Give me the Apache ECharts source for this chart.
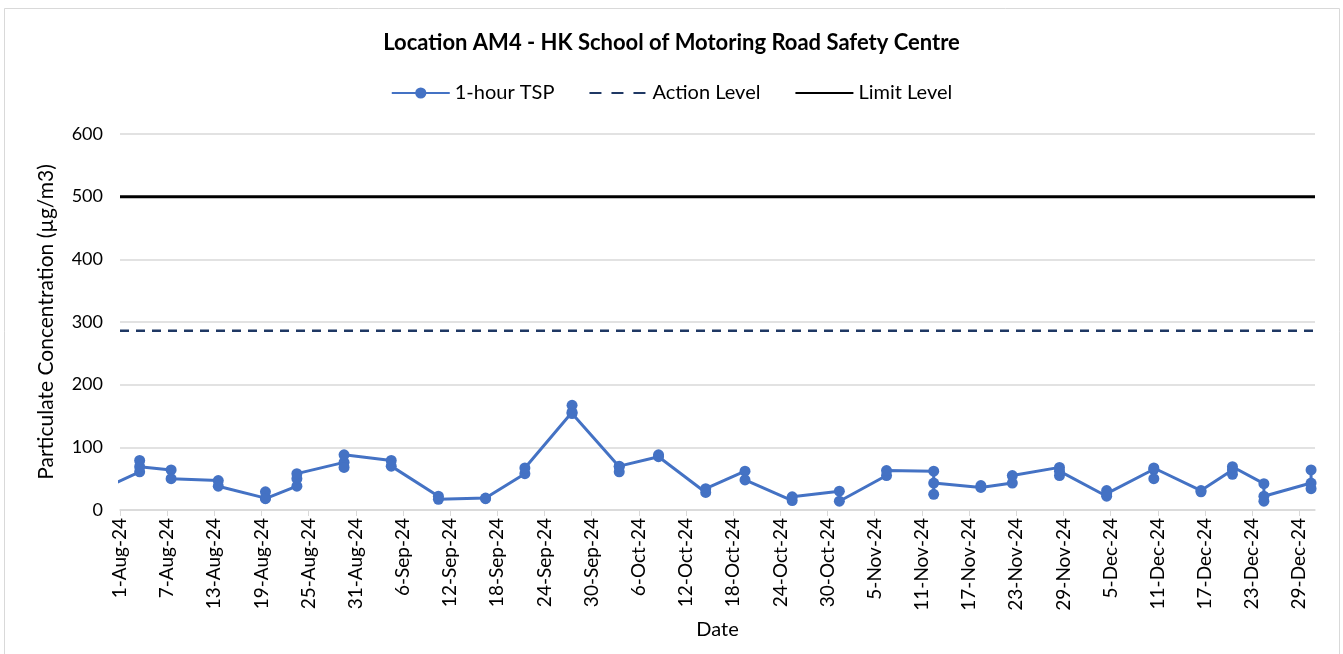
<!DOCTYPE html>
<html>
<head>
<meta charset="utf-8">
<script src="https://cdn.jsdelivr.net/npm/echarts@6/dist/echarts.min.js"></script>
<style>
  html, body { margin: 0; padding: 0; background: #fff; }
  #chartContainer { width: 1343px; height: 654px; }
</style>
</head>
<body>
<div id="chartContainer"></div>
<script>
// Sampling dates (1-hour TSP, several readings per sampling day)
const sampleDates = [
  '2024-07-28 12:00',
  '2024-08-03 12:00', '2024-08-07 12:00', '2024-08-13 12:00', '2024-08-19 12:00',
  '2024-08-23 12:00', '2024-08-29 12:00', '2024-09-04 12:00', '2024-09-10 12:00',
  '2024-09-16 12:00', '2024-09-21 12:00', '2024-09-27 12:00', '2024-10-03 12:00',
  '2024-10-08 12:00', '2024-10-14 12:00', '2024-10-19 12:00', '2024-10-25 12:00',
  '2024-10-31 12:00', '2024-11-06 12:00', '2024-11-12 12:00', '2024-11-18 12:00',
  '2024-11-22 12:00', '2024-11-28 12:00', '2024-12-04 12:00', '2024-12-10 12:00',
  '2024-12-16 12:00', '2024-12-20 12:00', '2024-12-24 12:00', '2024-12-30 12:00'
];
// readings for each sampling date, in the order they were plotted
const tspReadings = [
  [26],
  [61, 79, 69], [64, 50], [47, 38], [19, 29, 18],
  [38, 50, 58], [76, 68, 88], [79, 70], [22, 17],
  [19, 18], [58, 67], [156, 167, 154], [69, 61, 70],
  [85, 88], [28, 34], [62, 48], [15, 21],
  [30, 14], [55, 63], [62, 25, 43], [36, 39],
  [43, 55], [68, 55, 62], [22, 31, 26], [65, 50, 67],
  [31, 29], [64, 57, 69], [42, 14, 22], [43, 34, 64]
];
const actionLevel = 286;
const limitLevel = 500;
const axisStart = '2024-08-01';
const axisEnd = '2024-12-31';
const tickLabels = [
  '1-Aug-24', '7-Aug-24', '13-Aug-24', '19-Aug-24', '25-Aug-24', '31-Aug-24',
  '6-Sep-24', '12-Sep-24', '18-Sep-24', '24-Sep-24', '30-Sep-24', '6-Oct-24',
  '12-Oct-24', '18-Oct-24', '24-Oct-24', '30-Oct-24', '5-Nov-24', '11-Nov-24',
  '17-Nov-24', '23-Nov-24', '29-Nov-24', '5-Dec-24', '11-Dec-24', '17-Dec-24',
  '23-Dec-24', '29-Dec-24'
];
const tickStep = 6;

// days since the axis start
function toDay(s) {
  const p = s.split(/[- :]/).map(Number);
  const t = Date.UTC(p[0], p[1] - 1, p[2], p[3] || 0, p[4] || 0);
  const p0 = axisStart.split('-').map(Number);
  return (t - Date.UTC(p0[0], p0[1] - 1, p0[2])) / 86400000;
}

const tspData = [];
sampleDates.forEach(function (d, i) {
  tspReadings[i].forEach(function (v) {
    tspData.push([toDay(d), v]);
  });
});
const xMin = 0;
const xMax = toDay(axisEnd);
const tickValues = tickLabels.map(function (l, i) { return i * tickStep; });

const font = 'Lato, "Liberation Sans", sans-serif';
const chart = echarts.init(document.getElementById('chartContainer'));

chart.setOption({
  animation: false,
  backgroundColor: '#fff',
  textStyle: { fontFamily: font },
  graphic: [{
    type: 'rect',
    shape: { x: 4.5, y: 8.5, width: 1335, height: 660 },
    style: { fill: 'none', stroke: '#d9d9d9', lineWidth: 1 },
    silent: true
  }],
  title: {
    text: 'Location AM4 - HK School of Motoring Road Safety Centre',
    left: 'center',
    top: 27,
    textStyle: { fontFamily: font, fontSize: 22, fontWeight: 'bold', color: '#000' }
  },
  legend: {
    top: 78,
    left: 'center',
    itemGap: 34,
    itemWidth: 58,
    itemHeight: 14,
    textStyle: { fontFamily: font, fontSize: 20, color: '#000' },
    data: [
      '1-hour TSP',
      {
        name: 'Action Level',
        itemStyle: { color: 'rgba(0,0,0,0)', borderWidth: 0 },
        lineStyle: { type: [12, 10] }
      },
      { name: 'Limit Level', itemStyle: { color: 'rgba(0,0,0,0)', borderWidth: 0 } }
    ]
  },
  grid: { left: 120, right: 28, top: 134, bottom: 144 },
  xAxis: {
    type: 'value',
    min: xMin,
    max: xMax,
    name: 'Date',
    nameLocation: 'middle',
    nameGap: 110,
    nameTextStyle: { fontFamily: font, fontSize: 20, color: '#000' },
    axisLine: { show: true, lineStyle: { color: '#d9d9d9', width: 1.5 } },
    axisTick: { show: true, length: 6, lineStyle: { color: '#d9d9d9' }, customValues: tickValues },
    axisLabel: {
      rotate: 90,
      margin: 8,
      fontSize: 19,
      color: '#000',
      customValues: tickValues,
      formatter: function (v) { return tickLabels[Math.round(v / tickStep)] || ''; }
    },
    splitLine: { show: false }
  },
  yAxis: {
    type: 'value',
    min: 0,
    max: 600,
    interval: 100,
    name: 'Particulate Concentration (µg/m3)',
    nameLocation: 'middle',
    nameGap: 63,
    nameTextStyle: { fontFamily: font, fontSize: 21, color: '#000' },
    axisLine: { show: false },
    axisTick: { show: false },
    axisLabel: { fontSize: 18, color: '#000', margin: 17 },
    splitLine: { lineStyle: { color: '#d9d9d9', width: 1.5 } }
  },
  series: [
    {
      name: '1-hour TSP',
      type: 'line',
      data: tspData,
      clip: true,
      symbol: 'circle',
      symbolSize: 11,
      itemStyle: { color: '#4472C4' },
      lineStyle: { color: '#4472C4', width: 3 },
      z: 3
    },
    {
      name: 'Action Level',
      type: 'line',
      data: [[xMin, actionLevel], [xMax, actionLevel]],
      symbol: 'none',
      itemStyle: { color: '#1F3864' },
      lineStyle: { color: '#1F3864', width: 2.5, type: [9, 7] }
    },
    {
      name: 'Limit Level',
      type: 'line',
      data: [[xMin, limitLevel], [xMax, limitLevel]],
      symbol: 'none',
      itemStyle: { color: '#000' },
      lineStyle: { color: '#000', width: 3 }
    }
  ]
});
</script>
</body>
</html>
